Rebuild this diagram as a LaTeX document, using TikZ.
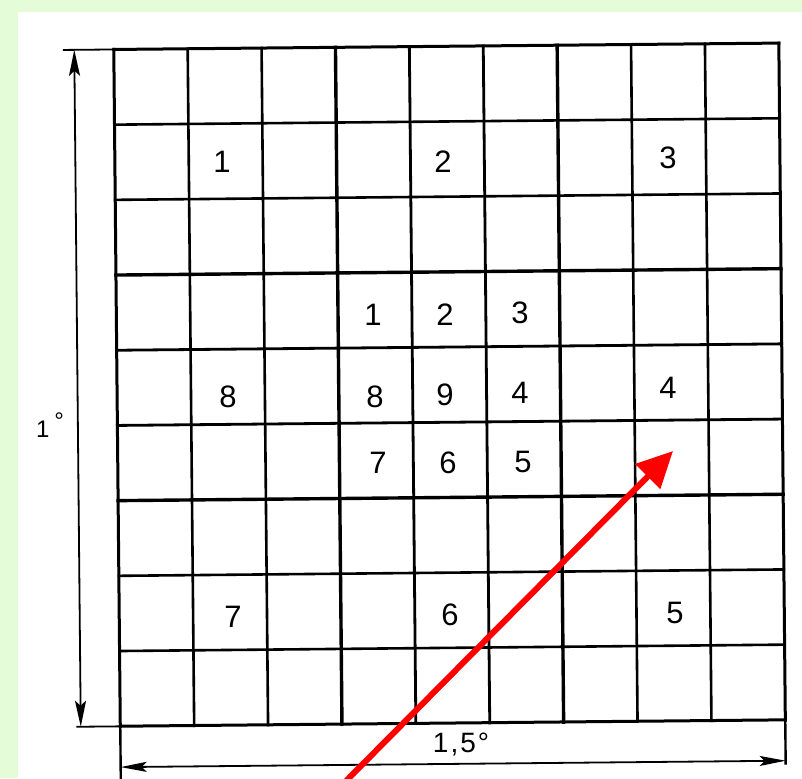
\documentclass[tikz,border=0pt]{standalone}
\usepackage{fontspec}
\setmainfont{Liberation Sans}
\usetikzlibrary{arrows.meta}
\definecolor{bggreen}{RGB}{228,253,216}
\begin{document}
\begin{tikzpicture}[x=1pt,y=-1pt,
  dimline/.style={line width=1.8pt},
  cellnum/.style={font=\fontsize{31}{31}\selectfont, inner sep=0pt},
  dimlabel/.style={inner sep=0pt},
  pointer/.style={line width=6pt, red, -{Triangle[length=36pt,width=34pt]}}]
\useasboundingbox (0,0) rectangle (802,778);
\fill[bggreen] (0,0) rectangle (802,778);
\fill[white] (18,12) rectangle (802,778);
\begin{scope}[rotate around={0.55:(449.5,384.75)}]
  \foreach \i/\w in {0/3,1/2.6,2/2.6,3/3.4,4/2.8,5/2.8,6/3.4,7/2.6,8/2.6,9/3}{
    \pgfmathsetmacro\xx{117+73.9*\i}
    \pgfmathsetmacro\yy{46.25+75.2*\i}
    \draw[line width=\w pt, line cap=rect] (\xx,46.25) -- (\xx,723.25);
    \draw[line width=\w pt, line cap=rect] (117,\yy) -- (782.1,\yy);
  }
  % dimension construction points
  \coordinate (eT) at (66,46.25);
  \coordinate (gTL) at (117,46.25);
  \coordinate (eB) at (73,723.25);
  \coordinate (gBL) at (117,723.25);
  \coordinate (gBR) at (782.1,723.25);
  \coordinate (eL) at (117,778);
  \coordinate (eR) at (782.1,768);
  \coordinate (vTop) at (77.5,46.25);
  \coordinate (vBot) at (77.5,723.25);
  \coordinate (hL) at (117,764);
  \coordinate (hR) at (782.1,764);
  \draw[dimline] (eT) -- (gTL);
  \draw[dimline] (eB) -- (gBL);
  \draw[line width=2.4pt] (gBL) -- (eL);
  \draw[line width=2.4pt] (gBR) -- (eR);
  \draw[dimline, {Stealth[length=26pt,width=11pt,inset=5pt]}-{Stealth[length=26pt,width=11pt,inset=5pt]}] (vTop) -- (vBot);
  \draw[dimline, {Stealth[length=26pt,width=10pt,inset=5pt]}-{Stealth[length=26pt,width=10pt,inset=5pt]}] (hL) -- (hR);
\end{scope}
% dimension labels
\node[dimlabel, font=\fontsize{24}{24}\selectfont] (degV) at (50,425) {1\kern5pt\raisebox{8pt}{°}};
\node[dimlabel, font=\fontsize{28}{28}\selectfont] (degH) at (461,745) {1\kern2pt,\kern2pt5\kern2pt°};
% outer block numbers
\node[cellnum] (o1) at (222,162) {1};
\node[cellnum] (o2) at (443,162) {2};
\node[cellnum] (o3) at (668,158) {3};
\node[cellnum] (o8) at (228,397) {8};
\node[cellnum] (o4) at (668,388) {4};
\node[cellnum] (o7) at (233,617) {7};
\node[cellnum] (o6) at (450,615) {6};
\node[cellnum] (o5) at (675,613) {5};
% inner block numbers
\node[cellnum] (i1) at (373,315) {1};
\node[cellnum] (i2) at (445,315) {2};
\node[cellnum] (i3) at (520,313) {3};
\node[cellnum] (i8) at (375,397) {8};
\node[cellnum] (i9) at (445,395) {9};
\node[cellnum] (i4) at (520,393) {4};
\node[cellnum] (i7) at (378,463) {7};
\node[cellnum] (i6) at (448,463) {6};
\node[cellnum] (i5) at (523,462) {5};
% red pointer
\coordinate (rs) at (346,781);
\coordinate (rt) at (673,451);
\draw[pointer] (rs) -- (rt);
\end{tikzpicture}
\end{document}
